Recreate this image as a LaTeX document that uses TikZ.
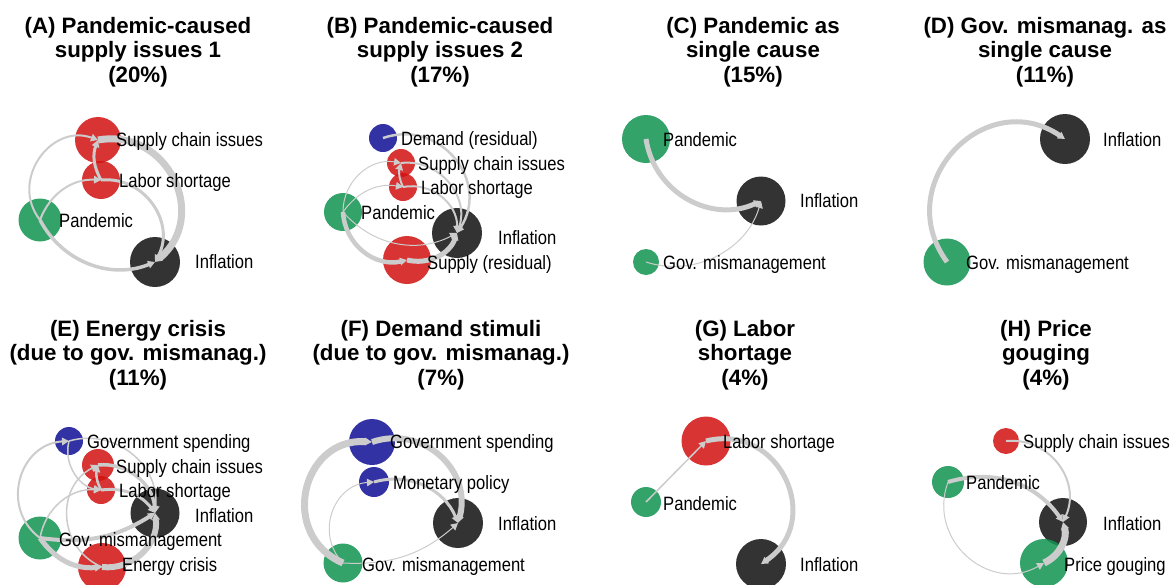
\documentclass[tikz,border=0pt]{standalone}
\usepackage{fontspec}
\setmainfont{Liberation Sans}
\newfontfamily\labfont{Liberation Sans}[FakeStretch=0.86]
\usepackage{tikz}
\usetikzlibrary{arrows.meta}
\definecolor{myred}{RGB}{210,16,16}
\definecolor{mygreen}{RGB}{16,147,80}
\definecolor{mydark}{RGB}{15,15,15}
\definecolor{myblue}{RGB}{14,14,149}
\definecolor{edgegray}{RGB}{204,204,204}

\tikzset{
        dot/.style={circle,fill=#1,fill opacity=0.85,inner sep=0pt},
        edge/.style={draw=edgegray,line width=#1,-{Triangle[length=7pt,width=7.5pt]}},
        lab/.style={font=\labfont\fontsize{19.3}{21}\selectfont,anchor=west,inner sep=0pt,text height=13.8pt,text depth=0pt},
        title/.style={font=\bfseries\fontsize{22.3}{24.5}\selectfont,align=center,inner sep=0pt}
}

\begin{document}
\begin{tikzpicture}[x=1pt,y=1pt]
        \useasboundingbox (0,0) rectangle (1174,-584);

        % (A)
        \node[title] (tA) at (138,-52) {(A) Pandemic-caused\\supply issues 1\\(20\%)};
        \node[dot=myred,minimum size=46pt] (aSC) at (98,-140) {};
        \node[dot=myred,minimum size=38pt] (aLS) at (101,-180) {};
        \node[dot=mygreen,minimum size=43pt] (aPan) at (40,-220) {};
        \node[dot=mydark,minimum size=50pt] (aInf) at (155,-262) {};
        \draw[edge=7pt] (aSC.center) to[bend left=75,looseness=1.35] (aInf.center);
        \draw[edge=3pt] (aLS.center) to[bend left=62,looseness=1.15] (aInf.center);
        \draw[edge=3.5pt] (aPan.center) to[bend right=42] (aInf.center);
        \draw[edge=2pt] (aPan.center) to[bend left=74,looseness=1.3] (aSC.center);
        \draw[edge=2pt] (aPan.center) to[bend left=36] (aLS.center);
        \draw[edge=3pt] (aLS.center) to[bend left=25] (aSC.center);
        \node[lab] (aSCl) at (116,-140) {Supply chain issues};
        \node[lab] (aLSl) at (119,-181) {Labor shortage};
        \node[lab] (aPanl) at (59,-221) {Pandemic};
        \node[lab] (aInfl) at (195,-262) {Inflation};

        % (B)
        \node[title] (tB) at (440,-52) {(B) Pandemic-caused\\supply issues 2\\(17\%)};
        \node[dot=myblue,minimum size=28pt] (bDem) at (383,-138) {};
        \node[dot=myred,minimum size=28pt] (bSC) at (401,-163) {};
        \node[dot=myred,minimum size=28pt] (bLS) at (403,-187) {};
        \node[dot=mygreen,minimum size=38pt] (bPan) at (343,-212) {};
        \node[dot=mydark,minimum size=50pt] (bInf) at (457,-233) {};
        \node[dot=myred,minimum size=48pt] (bSR) at (407,-260) {};
        \draw[edge=2.5pt] (bDem.center) to[bend left=71,looseness=1.3] (bInf.center);
        \draw[edge=2pt] (bSC.center) to[bend left=58,looseness=1.1] (bInf.center);
        \draw[edge=2pt] (bLS.center) to[bend left=51,looseness=1.05] (bInf.center);
        \draw[edge=2pt] (bLS.center) to[bend left=20] (bSC.center);
        \draw[edge=1pt] (bPan.center) to[bend left=50,looseness=1.05] (bSC.center);
        \draw[edge=1pt] (bPan.center) to[bend left=32] (bLS.center);
        \draw[edge=1pt] (bPan.center) to[bend right=38] (bInf.center);
        \draw[edge=4.5pt] (bPan.center) to[bend right=50,looseness=1.05] (bSR.center);
        \draw[edge=5pt] (bSR.center) to[bend right=42] (bInf.center);
        \node[lab] (bDeml) at (401,-139) {Demand (residual)};
        \node[lab] (bSCl) at (418,-164) {Supply chain issues};
        \node[lab] (bLSl) at (421,-188) {Labor shortage};
        \node[lab] (bPanl) at (361,-213) {Pandemic};
        \node[lab] (bInfl) at (498,-238) {Inflation};
        \node[lab] (bSRl) at (427,-263) {Supply (residual)};

        % (C)
        \node[title] (tC) at (753,-52) {(C) Pandemic as\\single cause\\(15\%)};
        \node[dot=mygreen,minimum size=48pt] (cPan) at (646,-139) {};
        \node[dot=mydark,minimum size=49pt] (cInf) at (761,-201) {};
        \node[dot=mygreen,minimum size=26pt] (cGov) at (646,-262) {};
        \draw[edge=5pt] (cPan.center) to[bend right=53,looseness=1.07] (cInf.center);
        \draw[edge=1pt] (cGov.center) to[bend right=46] (cInf.center);
        \node[lab] (cPanl) at (663,-140) {Pandemic};
        \node[lab] (cInfl) at (800,-201) {Inflation};
        \node[lab] (cGovl) at (663,-263) {Gov. mismanagement};

        % (D)
        \node[title] (tD) at (1045,-52) {(D) Gov. mismanag. as\\single cause\\(11\%)};
        \node[dot=mydark,minimum size=50pt] (dInf) at (1065,-139) {};
        \node[dot=mygreen,minimum size=47pt] (dGov) at (947,-262) {};
        \draw[edge=5pt] (dGov.center) to[bend left=80,looseness=1.45] (dInf.center);
        \node[lab] (dInfl) at (1103,-140) {Inflation};
        \node[lab] (dGovl) at (966,-263) {Gov. mismanagement};

        % (E)
        \node[title] (tE) at (138,-355) {(E) Energy crisis\\(due to gov. mismanag.)\\(11\%)};
        \node[dot=myblue,minimum size=28pt] (eGS) at (69,-441) {};
        \node[dot=myred,minimum size=32pt] (eSC) at (98,-465) {};
        \node[dot=myred,minimum size=28pt] (eLS) at (101,-490) {};
        \node[dot=mydark,minimum size=49pt] (eInf) at (155,-513) {};
        \node[dot=mygreen,minimum size=43pt] (eGM) at (40,-538) {};
        \node[dot=myred,minimum size=48pt] (eEC) at (102,-567) {};
        \draw[edge=2pt] (eGM.center) to[bend left=70,looseness=1.27] (eGS.center);
        \draw[edge=1.5pt] (eGS.center) to[bend left=56,looseness=1.1] (eInf.center);
        \draw[edge=1.5pt] (eGS.center) to[bend right=48] (eLS.center);
        \draw[edge=3.5pt] (eSC.center) to[bend left=46] (eInf.center);
        \draw[edge=3pt] (eLS.center) to[bend left=30] (eInf.center);
        \draw[edge=2.5pt] (eLS.center) to[bend left=20] (eSC.center);
        \draw[edge=1.5pt] (eEC.center) to[bend left=65,looseness=1.2] (eSC.center);
        \draw[edge=1.5pt] (eGM.center) to[bend left=42] (eLS.center);
        \draw[edge=4pt] (eGM.center) to[bend right=20] (eInf.center);
        \draw[edge=5pt] (eGM.center) to[bend right=30] (eEC.center);
        \draw[edge=6pt] (eEC.center) to[bend right=52,looseness=1.05] (eInf.center);
        \node[lab] (eGSl) at (87,-442) {Government spending};
        \node[lab] (eSCl) at (116,-467) {Supply chain issues};
        \node[lab] (eLSl) at (119,-491) {Labor shortage};
        \node[lab] (eInfl) at (195,-516) {Inflation};
        \node[lab] (eGMl) at (59,-540) {Gov. mismanagement};
        \node[lab] (eECl) at (122,-565) {Energy crisis};

        % (F)
        \node[title] (tF) at (441,-355) {(F) Demand stimuli\\(due to gov. mismanag.)\\(7\%)};
        \node[dot=myblue,minimum size=46pt] (fGS) at (372,-442) {};
        \node[dot=myblue,minimum size=30pt] (fMP) at (374,-482) {};
        \node[dot=mydark,minimum size=50pt] (fInf) at (458,-523) {};
        \node[dot=mygreen,minimum size=39pt] (fGM) at (343,-563) {};
        \draw[edge=7pt] (fGM.center) to[bend left=80,looseness=1.45] (fGS.center);
        \draw[edge=6pt] (fGS.center) to[bend left=62,looseness=1.18] (fInf.center);
        \draw[edge=1pt] (fGM.center) to[bend left=65,looseness=1.2] (fMP.center);
        \draw[edge=3pt] (fMP.center) to[bend left=42] (fInf.center);
        \draw[edge=1pt] (fGM.center) to[bend right=22] (fInf.center);
        \node[lab] (fGSl) at (390,-442) {Government spending};
        \node[lab] (fMPl) at (393,-483) {Monetary policy};
        \node[lab] (fInfl) at (498,-524) {Inflation};
        \node[lab] (fGMl) at (362,-565) {Gov. mismanagement};

        % (G)
        \node[title] (tG) at (745,-355) {(G) Labor\\shortage\\(4\%)};
        \node[dot=myred,minimum size=49pt] (gLS) at (706,-441) {};
        \node[dot=mygreen,minimum size=30pt] (gPan) at (646,-502) {};
        \node[dot=mydark,minimum size=50pt] (gInf) at (761,-564) {};
        \draw[edge=1.5pt] (gPan.center) -- (gLS.center);
        \draw[edge=5pt] (gLS.center) to[bend left=80,looseness=1.45] (gInf.center);
        \node[lab] (gLSl) at (723,-442) {Labor shortage};
        \node[lab] (gPanl) at (663,-504) {Pandemic};
        \node[lab] (gInfl) at (800,-565) {Inflation};

        % (H)
        \node[title] (tH) at (1046,-355) {(H) Price\\gouging\\(4\%)};
        \node[dot=myred,minimum size=26pt] (hSC) at (1006,-441) {};
        \node[dot=mygreen,minimum size=32pt] (hPan) at (948,-482) {};
        \node[dot=mydark,minimum size=48pt] (hInf) at (1063,-522) {};
        \node[dot=mygreen,minimum size=48pt] (hPG) at (1044,-563) {};
        \draw[edge=2pt] (hSC.center) to[bend left=60,looseness=1.15] (hInf.center);
        \draw[edge=4pt] (hPan.center) to[bend left=36] (hInf.center);
        \draw[edge=1pt] (hPan.center) to[bend right=70,looseness=1.27] (hPG.center);
        \draw[edge=7pt] (hPG.center) to[bend right=40] (hInf.center);
        \node[lab] (hSCl) at (1023,-442) {Supply chain issues};
        \node[lab] (hPanl) at (966,-483) {Pandemic};
        \node[lab] (hInfl) at (1103,-524) {Inflation};
        \node[lab] (hPGl) at (1064,-565) {Price gouging};
\end{tikzpicture}
\end{document}
